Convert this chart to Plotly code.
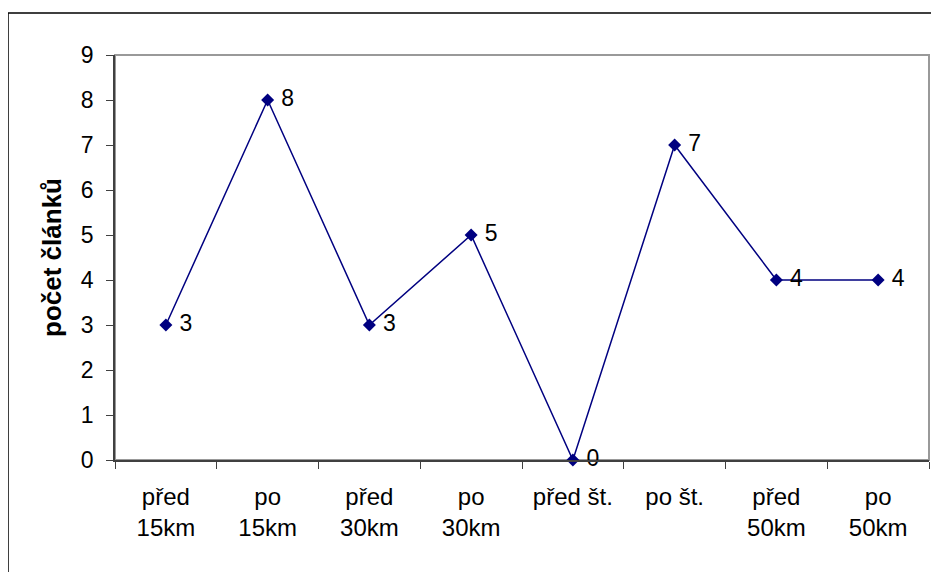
import plotly.graph_objects as go

categories = ["před<br>15km", "po<br>15km", "před<br>30km", "po<br>30km",
              "před št.", "po št.", "před<br>50km", "po<br>50km"]
values = [3, 8, 3, 5, 0, 7, 4, 4]
y_ticks = list(range(0, 10))

OFF = 8  # page body margin
W, H = 939 - OFF, 572 - OFF
L = 115 - OFF
T = 55 - OFF
R = W - (929 - OFF)
B = H - (460 - OFF)
pw, ph = W - L - R, H - T - B

def px_x(x):
    return (x - OFF - L) / pw

def px_y(y):
    return (H - B - (y - OFF)) / ph

FONT = "Liberation Sans, Arial"

fig = go.Figure()
fig.add_trace(go.Scatter(
    x=categories, y=values,
    mode="lines+markers+text",
    text=[f" {v}" for v in values],
    textposition="middle right",
    textfont=dict(family=FONT, size=23, color="black"),
    line=dict(color="#000080", width=1.5),
    marker=dict(symbol="diamond", size=10, color="#000080"),
    cliponaxis=False,
    showlegend=False,
))

fig.update_layout(
    width=W, height=H,
    margin=dict(l=L, r=R, t=T, b=B),
    paper_bgcolor="white", plot_bgcolor="white",
    font=dict(family=FONT, size=23, color="black"),
    xaxis=dict(
        type="category", range=[-0.5, 7.5],
        showgrid=False, zeroline=False,
        showline=True, linecolor="#404040", linewidth=1.5,
        ticks="outside", tickson="boundaries", ticklen=7, tickcolor="#404040",
        tickwidth=1, ticklabelstandoff=14,
        tickfont=dict(size=24),
    ),
    yaxis=dict(
        range=[0, 9], tickvals=y_ticks,
        showgrid=False, zeroline=False,
        showline=True, linecolor="#404040", linewidth=1.5,
        ticks="outside", ticklen=7, tickcolor="#404040", tickwidth=1,
        ticklabelstandoff=8,
        tickfont=dict(size=23),
        title=dict(text="<b>počet článků</b>", font=dict(size=26), standoff=12),
    ),
    shapes=[
        dict(type="rect", xref="paper", yref="paper",
             x0=px_x(8), x1=px_x(950), y0=px_y(590), y1=px_y(13),
             line=dict(color="black", width=1.5), layer="below"),
        dict(type="rect", xref="x domain", yref="y domain",
             x0=0, x1=1, y0=0, y1=1,
             line=dict(color="#999999", width=2), layer="below"),
    ],
)

fig.write_html("out.html")
